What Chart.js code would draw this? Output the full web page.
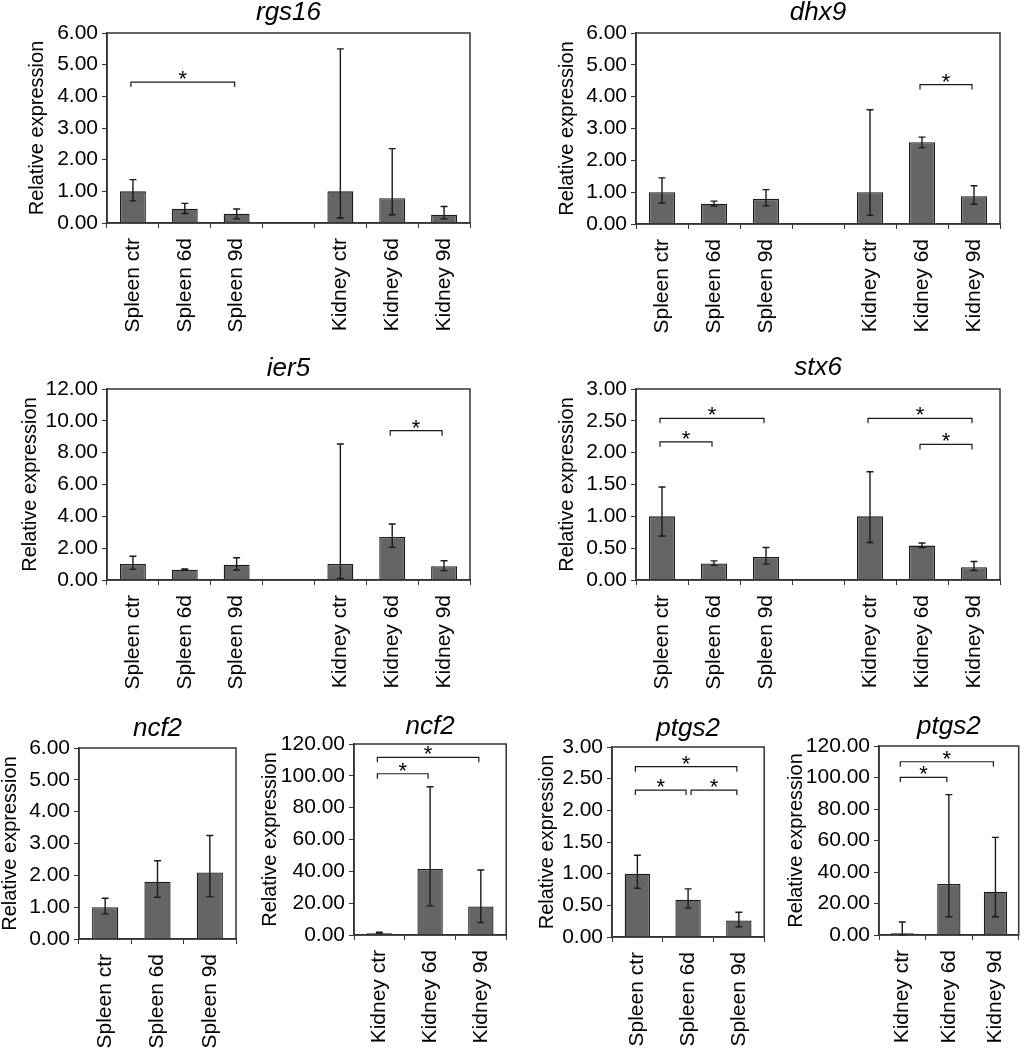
<!DOCTYPE html>
<html>
<head>
<meta charset="utf-8">
<script src="https://cdn.jsdelivr.net/npm/chart.js@4"></script>
<style>
  body { margin: 0; background: #fff; }
  #fig { position: relative; width: 1033px; height: 1050px; overflow: hidden; }
  #fig canvas { position: absolute; }
</style>
</head>
<body>
<div id="fig"></div>
<script>
// categories
var bothTissues = ['Spleen ctr', 'Spleen 6d', 'Spleen 9d', '', 'Kidney ctr', 'Kidney 6d', 'Kidney 9d'];
var spleenOnly = ['Spleen ctr', 'Spleen 6d', 'Spleen 9d'];
var kidneyOnly = ['Kidney ctr', 'Kidney 6d', 'Kidney 9d'];

// rgs16
var rgs16Mean = [1.00, 0.45, 0.29, null, 1.00, 0.78, 0.26];
var rgs16Hi   = [1.37, 0.62, 0.44, null, 5.50, 2.35, 0.52];
var rgs16Lo   = [0.70, 0.30, 0.13, null, 0.16, 0.26, 0.13];
var rgs16Sig  = [[0, 2, 4.45]];

// dhx9
var dhx9Mean = [1.00, 0.64, 0.79, null, 1.00, 2.57, 0.87];
var dhx9Hi   = [1.45, 0.72, 1.08, null, 3.59, 2.73, 1.20];
var dhx9Lo   = [0.66, 0.56, 0.57, null, 0.27, 2.40, 0.62];
var dhx9Sig  = [[5, 6, 4.38]];

// ier5
var ier5Mean = [1.00, 0.65, 0.96, null, 1.00, 2.70, 0.86];
var ier5Hi   = [1.49, 0.69, 1.40, null, 8.54, 3.52, 1.21];
var ier5Lo   = [0.67, 0.61, 0.63, null, 0.10, 2.05, 0.59];
var ier5Sig  = [[5, 6, 9.38]];

// stx6
var stx6Mean = [1.00, 0.26, 0.36, null, 1.00, 0.54, 0.20];
var stx6Hi   = [1.46, 0.30, 0.51, null, 1.70, 0.58, 0.29];
var stx6Lo   = [0.69, 0.23, 0.25, null, 0.59, 0.51, 0.15];
var stx6Sig  = [[0, 2, 2.54], [0, 1, 2.17], [4, 6, 2.54], [5, 6, 2.13]];

// ncf2 spleen
var ncf2SpleenMean = [1.00, 1.80, 2.09];
var ncf2SpleenHi   = [1.28, 2.46, 3.25];
var ncf2SpleenLo   = [0.79, 1.31, 1.33];
var ncf2SpleenSig  = [];

// ncf2 kidney
var ncf2KidneyMean = [1.05, 41.4, 17.9];
var ncf2KidneyHi   = [1.7, 93.1, 40.8];
var ncf2KidneyLo   = [0.6, 18.3, 7.8];
var ncf2KidneySig  = [[0, 2, 111.6], [0, 1, 101.3]];

// ptgs2 spleen
var ptgs2SpleenMean = [1.00, 0.59, 0.26];
var ptgs2SpleenHi   = [1.29, 0.76, 0.39];
var ptgs2SpleenLo   = [0.77, 0.46, 0.16];
var ptgs2SpleenSig  = [[0, 2, 2.69], [0, 1, 2.32], [1, 2, 2.32]];

// ptgs2 kidney
var ptgs2KidneyMean = [1.06, 32.4, 27.5];
var ptgs2KidneyHi   = [8.25, 89.1, 62.0];
var ptgs2KidneyLo   = [0, 11.6, 11.6];
var ptgs2KidneySig  = [[0, 2, 110.0], [0, 1, 100.1]];

var barFill = '#656565';
var barEdge = '#1c1c1c';
var axisColor = '#333';
var titleSize = 26;

Chart.defaults.font.family = '"Liberation Sans", Arial, Helvetica, sans-serif';
Chart.defaults.color = '#000';

/* error bars, significance brackets, plot frame */
function makeExtras(p) {
  return {
    id: 'extras',
    afterDatasetsDraw: function(chart) {
      var ctx = chart.ctx, x = chart.scales.x, y = chart.scales.y, a = chart.chartArea;
      ctx.save();
      ctx.strokeStyle = '#1a1a1a';
      ctx.lineWidth = 1.4;
      p.mean.forEach(function(m, i) {
        if (m === null) return;
        var px = x.getPixelForValue(i);
        var top = y.getPixelForValue(p.hi[i]);
        var bot = y.getPixelForValue(p.lo[i]);
        ctx.beginPath();
        ctx.moveTo(px, top); ctx.lineTo(px, bot);
        ctx.moveTo(px - 3.5, top); ctx.lineTo(px + 3.5, top);
        ctx.moveTo(px - 3.5, bot); ctx.lineTo(px + 3.5, bot);
        ctx.stroke();
      });

      ctx.lineWidth = 1.2;
      ctx.fillStyle = '#000';
      ctx.font = '22px "Liberation Sans", Arial, sans-serif';
      ctx.textAlign = 'center';
      ctx.textBaseline = 'alphabetic';
      p.sig.forEach(function(s) {
        var shared = p.sig.some(function(o) { return o !== s && o[1] === s[0] && o[2] === s[2]; });
        var x1 = x.getPixelForValue(s[0]) + (shared ? 3 : -2);
        var x2 = x.getPixelForValue(s[1]) - 2;
        var yl = y.getPixelForValue(s[2]);
        ctx.beginPath();
        ctx.moveTo(x1, yl + 5); ctx.lineTo(x1, yl); ctx.lineTo(x2, yl); ctx.lineTo(x2, yl + 5);
        ctx.stroke();
        ctx.fillText('*', (x1 + x2) / 2, yl + 4);
      });

      ctx.strokeStyle = axisColor;
      ctx.lineWidth = 1.5;
      ctx.strokeRect(a.left, a.top, a.right - a.left, a.bottom - a.top);
      ctx.restore();
    }
  };
}

function makePanel(p) {
  var c = p.box.canvas, pl = p.box.plot;
  var cv = document.createElement('canvas');
  cv.width = c[2];
  cv.height = c[3];
  cv.style.left = c[0] + 'px';
  cv.style.top = c[1] + 'px';
  document.getElementById('fig').appendChild(cv);

  var titleTop = Math.max(0, p.box.titleY - c[1] - titleSize / 2);
  var titleBottom = Math.max(0, (pl[1] - c[1]) - titleSize - titleTop);

  return new Chart(cv.getContext('2d'), {
    type: 'bar',
    data: {
      labels: p.labels,
      datasets: [{
        data: p.mean,
        backgroundColor: barFill,
        borderColor: barEdge,
        borderWidth: 1.3,
        categoryPercentage: 1,
        barPercentage: 0.5
      }]
    },
    options: {
      responsive: false,
      animation: false,
      layout: { padding: { left: 0, top: 0, bottom: 0, right: c[0] + c[2] - pl[2] } },
      plugins: {
        legend: { display: false },
        tooltip: { enabled: false },
        title: {
          display: true,
          text: p.gene,
          fullSize: false,
          color: '#000',
          font: { size: titleSize, style: 'italic', weight: 'normal', lineHeight: 1 },
          padding: { top: titleTop, bottom: titleBottom }
        }
      },
      scales: {
        x: {
          grid: { drawOnChartArea: false, tickLength: 5, color: axisColor, offset: true },
          border: { color: axisColor, width: 1.5 },
          ticks: { font: { size: 21 }, minRotation: 90, maxRotation: 90, autoSkip: false, padding: 10 },
          afterFit: function(s) { s.height = c[1] + c[3] - pl[3]; }
        },
        y: {
          min: 0,
          max: p.yMax,
          grid: { drawOnChartArea: false, tickLength: 5, color: axisColor },
          border: { color: axisColor, width: 1.5 },
          ticks: {
            stepSize: p.yStep,
            font: { size: 21 },
            padding: 4,
            callback: function(v) { return v.toFixed(2); }
          },
          title: {
            display: true,
            text: 'Relative expression',
            font: { size: 20, lineHeight: 1 },
            padding: { top: Math.max(0, p.box.yTitleX - c[0] - 10), bottom: 0 }
          },
          afterFit: function(s) { s.width = pl[0] - c[0]; }
        }
      }
    },
    plugins: [makeExtras(p)]
  });
}

// canvas: [left, top, width, height]; plot: [left, top, right, bottom]
makePanel({ gene: 'rgs16', labels: bothTissues, mean: rgs16Mean, hi: rgs16Hi, lo: rgs16Lo, sig: rgs16Sig, yMax: 6, yStep: 1,
  box: { canvas: [0, 0, 515, 345], plot: [107, 33, 470, 223], titleY: 13, yTitleX: 37 } });
makePanel({ gene: 'dhx9', labels: bothTissues, mean: dhx9Mean, hi: dhx9Hi, lo: dhx9Lo, sig: dhx9Sig, yMax: 6, yStep: 1,
  box: { canvas: [515, 0, 518, 345], plot: [636, 33, 1000, 224], titleY: 13, yTitleX: 567 } });
makePanel({ gene: 'ier5', labels: bothTissues, mean: ier5Mean, hi: ier5Hi, lo: ier5Lo, sig: ier5Sig, yMax: 12, yStep: 2,
  box: { canvas: [0, 330, 515, 370], plot: [107, 389, 470, 580], titleY: 369, yTitleX: 30 } });
makePanel({ gene: 'stx6', labels: bothTissues, mean: stx6Mean, hi: stx6Hi, lo: stx6Lo, sig: stx6Sig, yMax: 3, yStep: 0.5,
  box: { canvas: [515, 330, 518, 370], plot: [636, 389, 1000, 580], titleY: 368, yTitleX: 567 } });
makePanel({ gene: 'ncf2', labels: spleenOnly, mean: ncf2SpleenMean, hi: ncf2SpleenHi, lo: ncf2SpleenLo, sig: ncf2SpleenSig, yMax: 6, yStep: 1,
  box: { canvas: [0, 660, 258, 390], plot: [79, 748, 236, 939], titleY: 729, yTitleX: 10 } });
makePanel({ gene: 'ncf2', labels: kidneyOnly, mean: ncf2KidneyMean, hi: ncf2KidneyHi, lo: ncf2KidneyLo, sig: ncf2KidneySig, yMax: 120, yStep: 20,
  box: { canvas: [258, 660, 260, 390], plot: [354, 744, 509, 935], titleY: 727, yTitleX: 270 } });
makePanel({ gene: 'ptgs2', labels: spleenOnly, mean: ptgs2SpleenMean, hi: ptgs2SpleenHi, lo: ptgs2SpleenLo, sig: ptgs2SpleenSig, yMax: 3, yStep: 0.5,
  box: { canvas: [518, 660, 258, 390], plot: [612, 747, 766, 937], titleY: 729, yTitleX: 547 } });
makePanel({ gene: 'ptgs2', labels: kidneyOnly, mean: ptgs2KidneyMean, hi: ptgs2KidneyHi, lo: ptgs2KidneyLo, sig: ptgs2KidneySig, yMax: 120, yStep: 20,
  box: { canvas: [776, 660, 257, 390], plot: [879, 746, 1030, 935], titleY: 727, yTitleX: 796 } });
</script>
</body>
</html>
